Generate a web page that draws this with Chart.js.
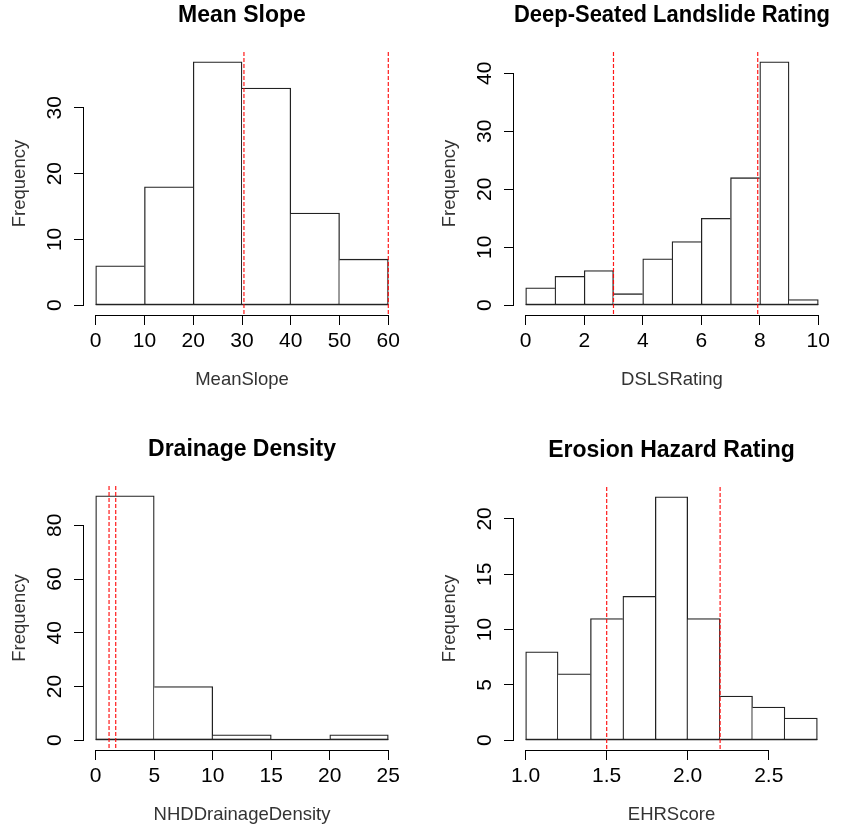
<!DOCTYPE html>
<html lang="en">
  <head>
    <meta charset="UTF-8" />
    <title>Histograms</title>
    <script src="https://cdn.jsdelivr.net/npm/chart.js@4.4.1/dist/chart.umd.min.js"></script>
    <style>
      html, body { margin: 0; padding: 0; background: #fff; }
      #wrap { position: relative; width: 842px; height: 830px; overflow: hidden; background: #fff; }
      #wrap canvas { position: absolute; }
    </style>
  </head>
  <body>
    <div id="wrap">
      <canvas id="slope"></canvas>
      <canvas id="dsls"></canvas>
      <canvas id="drain"></canvas>
      <canvas id="ehr"></canvas>
    </div>

    <script>
      // bin edges, counts and cut lines
      const slopeBreaks = [0, 10, 20, 30, 40, 50, 60];
      const slopeCounts = [6, 18, 37, 33, 14, 7];
      const slopeCuts = [30.4, 60];
      const slopeXTicks = [0, 10, 20, 30, 40, 50, 60];
      const slopeXLabels = ["0", "10", "20", "30", "40", "50", "60"];
      const slopeYTicks = [0, 10, 20, 30];

      const dslsBreaks = [0, 1, 2, 3, 4, 5, 6, 7, 8, 9, 10];
      const dslsCounts = [3, 5, 6, 2, 8, 11, 15, 22, 42, 1];
      const dslsCuts = [3, 7.93];
      const dslsXTicks = [0, 2, 4, 6, 8, 10];
      const dslsXLabels = ["0", "2", "4", "6", "8", "10"];
      const dslsYTicks = [0, 10, 20, 30, 40];

      const drainBreaks = [0, 5, 10, 15, 20, 25];
      const drainCounts = [91, 20, 2, 0, 2];
      const drainCuts = [1.14, 1.71];
      const drainXTicks = [0, 5, 10, 15, 20, 25];
      const drainXLabels = ["0", "5", "10", "15", "20", "25"];
      const drainYTicks = [0, 20, 40, 60, 80];

      const ehrBreaks = [1.0, 1.2, 1.4, 1.6, 1.8, 2.0, 2.2, 2.4, 2.6, 2.8];
      const ehrCounts = [8, 6, 11, 13, 22, 11, 4, 3, 2];
      const ehrCuts = [1.5, 2.2];
      const ehrXTicks = [1.0, 1.5, 2.0, 2.5];
      const ehrXLabels = ["1.0", "1.5", "2.0", "2.5"];
      const ehrYTicks = [0, 5, 10, 15, 20];

      // plot regions on the page (R-style panels)
      const boxes = {
        slope: { left: 84, right: 400, top: 52, bottom: 315 },
        dsls: { left: 514, right: 830, top: 52, bottom: 315 },
        drain: { left: 84, right: 400, top: 486, bottom: 750 },
        ehr: { left: 514, right: 829, top: 487, bottom: 750 },
      };

      const FAMILY = "'Liberation Sans', Arial, sans-serif";
      const tickFont = { family: FAMILY, size: 21 };
      const labFont = { family: FAMILY, size: 18.5 };
      const mainFont = { family: FAMILY, size: 23, weight: "bold" };

      // axis lines between first/last tick, baseline and dashed cut lines
      const rStyle = {
        id: "rStyle",
        afterDatasetsDraw(chart, args, opts) {
          const { ctx, chartArea, scales } = chart;
          const x = scales.x, y = scales.y;
          ctx.save();
          // zero line under all bins (empty bins too)
          const y0 = y.getPixelForValue(0);
          const bx0 = x.getPixelForValue(opts.breaks[0]);
          const bx1 = x.getPixelForValue(opts.breaks[opts.breaks.length - 1]);
          ctx.fillStyle = "#222";
          ctx.fillRect(bx0, y0 - 1.3, bx1 - bx0, 1.3);

          ctx.strokeStyle = "rgba(255,0,0,0.9)";
          ctx.lineWidth = 1.2;
          ctx.setLineDash([4, 2]);
          opts.cuts.forEach((v) => {
            const px = x.getPixelForValue(v);
            ctx.beginPath();
            ctx.moveTo(px, chartArea.top);
            ctx.lineTo(px, chartArea.bottom);
            ctx.stroke();
          });
          ctx.restore();
        },
        afterDraw(chart) {
          const { ctx, scales } = chart;
          const x = scales.x, y = scales.y;
          ctx.save();
          ctx.strokeStyle = "#000";
          ctx.lineWidth = 1;
          const xa = Math.round(x.top) + 0.5;
          ctx.beginPath();
          ctx.moveTo(x.getPixelForTick(0), xa);
          ctx.lineTo(x.getPixelForTick(x.ticks.length - 1), xa);
          ctx.stroke();
          const ya = Math.round(y.right) - 0.5;
          ctx.beginPath();
          ctx.moveTo(ya, y.getPixelForTick(0));
          ctx.lineTo(ya, y.getPixelForTick(y.ticks.length - 1));
          ctx.stroke();
          ctx.restore();
        },
      };

      function drawHist(id, h) {
        const box = boxes[id];
        const el = document.getElementById(id);
        el.width = 80 + (box.right - box.left) + 20;
        el.height = 52 + (box.bottom - box.top) + 100;
        el.style.left = box.left - 80 + "px";
        el.style.top = box.top - 52 + "px";

        const n = h.counts.length;
        const c = h.counts;
        const points = c.map((v, i) => ({ x: (h.breaks[i] + h.breaks[i + 1]) / 2, y: v }));
        const lo = h.breaks[0], hi = h.breaks[n];
        const xPad = (hi - lo) * 0.04;
        const yMax = Math.max(...c);
        const yPad = yMax * 0.04;

        const axisGrid = { offset: false, drawOnChartArea: false, drawTicks: true, tickLength: 10, color: "#000", lineWidth: 1 };
        const bw = 1.3;

        new Chart(el, {
          type: "bar",
          data: {
            datasets: [
              {
                data: points,
                backgroundColor: "#fff",
                borderColor: "#222",
                borderSkipped: false,
                // shared edges drawn once, by the taller bar
                borderWidth: (ctx) => {
                  const i = ctx.dataIndex;
                  return {
                    top: bw,
                    bottom: bw,
                    left: i === 0 || c[i - 1] <= c[i] ? bw : 0,
                    right: i === n - 1 || c[i + 1] < c[i] ? bw : 0,
                  };
                },
                barPercentage: 1,
                categoryPercentage: 1,
              },
            ],
          },
          options: {
            responsive: false,
            animation: false,
            devicePixelRatio: 1,
            layout: { padding: { left: 0, top: 0, right: 20, bottom: 0 } },
            plugins: {
              legend: { display: false },
              tooltip: { enabled: false },
              rStyle: { cuts: h.cuts, breaks: h.breaks },
            },
            scales: {
              x: {
                type: "linear",
                position: "bottom",
                min: lo - xPad,
                max: hi + xPad,
                offset: false,
                afterBuildTicks: (s) => { s.ticks = h.xTicks.map((v) => ({ value: v })); },
                afterFit: (s) => { s.height = 100; },
                grid: axisGrid,
                border: { display: false },
                ticks: {
                  autoSkip: false,
                  maxRotation: 0,
                  padding: 3.4,
                  color: "#000",
                  font: tickFont,
                  callback: (v, i) => h.xLabels[i],
                },
                title: { display: true, text: h.xTitle, color: "#333", font: labFont, padding: { top: 0, bottom: 24.4 } },
              },
              top: {
                type: "linear",
                position: "top",
                afterFit: (s) => { s.height = 52; },
                grid: { display: false },
                border: { display: false },
                ticks: { display: false },
                title: { display: true, text: h.title, color: "#000", font: mainFont, padding: { top: 1.7, bottom: 0 } },
              },
              y: {
                type: "linear",
                min: -yPad,
                max: yMax + yPad,
                afterBuildTicks: (s) => { s.ticks = h.yTicks.map((v) => ({ value: v })); },
                afterFit: (s) => { s.width = 80; },
                grid: axisGrid,
                border: { display: false },
                ticks: {
                  autoSkip: false,
                  minRotation: 90,
                  maxRotation: 90,
                  crossAlign: "center",
                  padding: 7.3,
                  color: "#000",
                  font: tickFont,
                },
                title: { display: true, text: "Frequency", color: "#333", font: labFont, padding: { top: 4.4, bottom: 0 } },
              },
            },
          },
          plugins: [rStyle],
        });
      }

      drawHist("slope", {
        title: "Mean Slope", xTitle: "MeanSlope",
        breaks: slopeBreaks, counts: slopeCounts, cuts: slopeCuts,
        xTicks: slopeXTicks, xLabels: slopeXLabels, yTicks: slopeYTicks,
      });
      drawHist("dsls", {
        title: "Deep-Seated Landslide Rating", xTitle: "DSLSRating",
        breaks: dslsBreaks, counts: dslsCounts, cuts: dslsCuts,
        xTicks: dslsXTicks, xLabels: dslsXLabels, yTicks: dslsYTicks,
      });
      drawHist("drain", {
        title: "Drainage Density", xTitle: "NHDDrainageDensity",
        breaks: drainBreaks, counts: drainCounts, cuts: drainCuts,
        xTicks: drainXTicks, xLabels: drainXLabels, yTicks: drainYTicks,
      });
      drawHist("ehr", {
        title: "Erosion Hazard Rating", xTitle: "EHRScore",
        breaks: ehrBreaks, counts: ehrCounts, cuts: ehrCuts,
        xTicks: ehrXTicks, xLabels: ehrXLabels, yTicks: ehrYTicks,
      });
    </script>
  </body>
</html>
